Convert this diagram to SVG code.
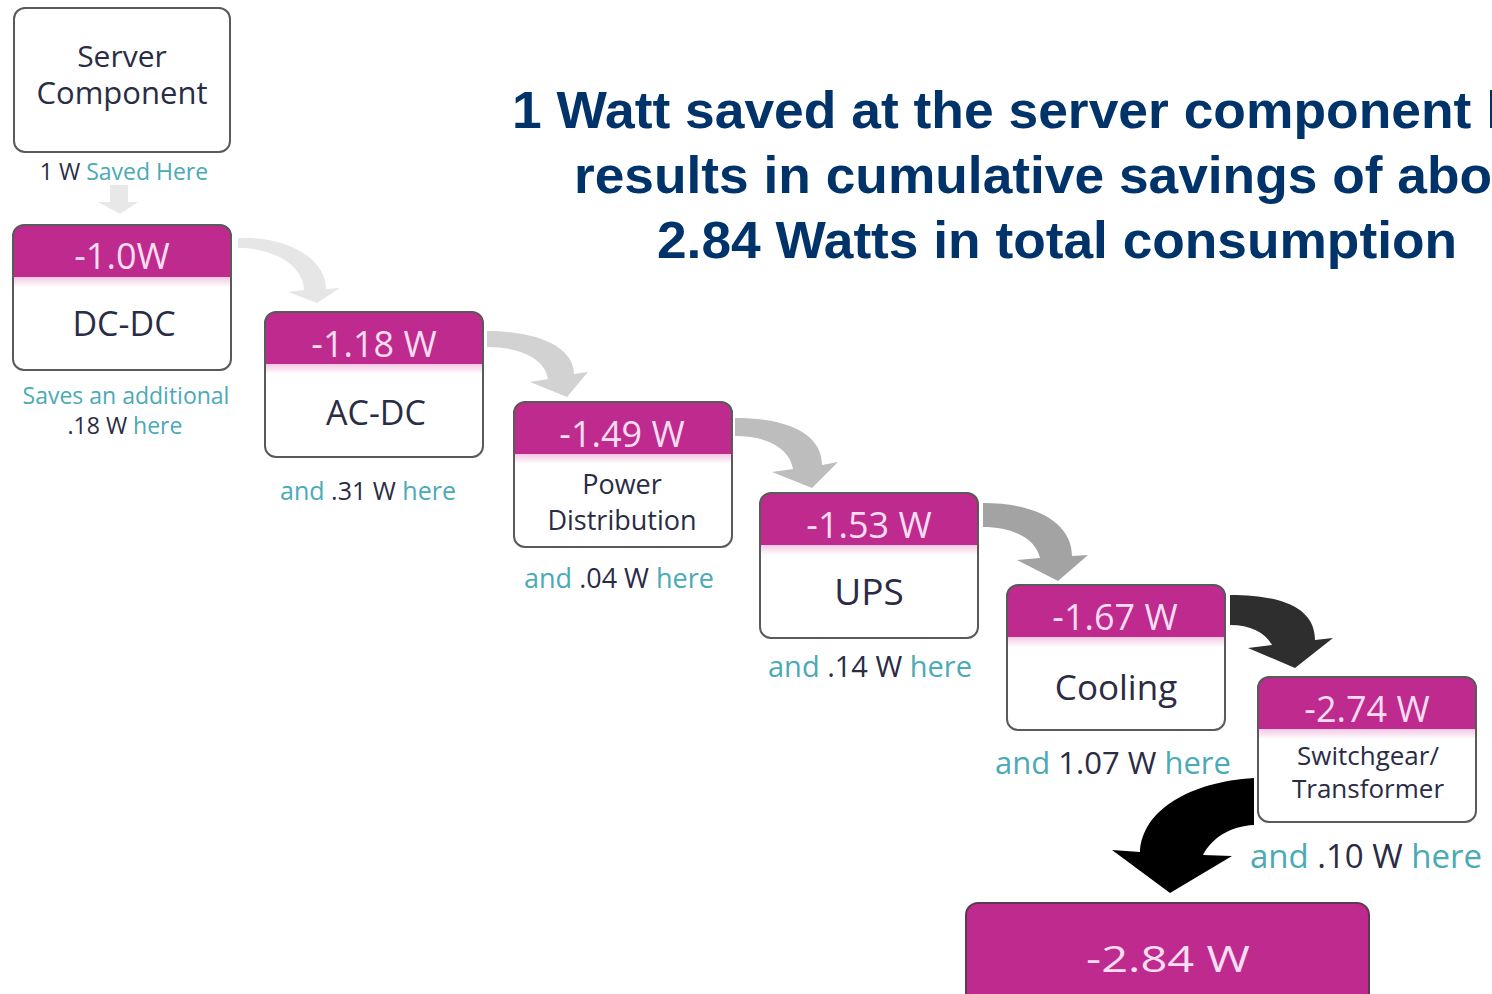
<svg xmlns="http://www.w3.org/2000/svg" width="1492" height="994" viewBox="0 0 1492 994">
  <style>
    .hd { font-family: "Open Sans", "Noto Sans", sans-serif; font-size: 36px; fill: #f8ddf0; text-anchor: middle; }
    .lb { font-family: "Open Sans", "Noto Sans", sans-serif; fill: #2a2c45; text-anchor: middle; }
    .cap { font-family: "Open Sans", "Noto Sans", sans-serif; fill: #4aaab6; text-anchor: middle; }
    .num { fill: #2a2c45; }
    .title { font-family: "Liberation Sans", Arial, sans-serif; font-weight: bold; font-size: 52px; fill: #00336a; }
  </style>
  <defs>
    <linearGradient id="fade" x1="0" y1="0" x2="0" y2="1">
      <stop offset="0" stop-color="#f3c6e3"/>
      <stop offset="1" stop-color="#ffffff"/>
    </linearGradient>
    <!-- stage card: magenta header over a white body -->
    <g id="card">
      <rect width="218" height="145" rx="11" fill="#ffffff"/>
      <path d="M0,11 a11,11 0 0 1 11,-11 h196 a11,11 0 0 1 11,11 v41 h-218 z" fill="#bf2a8f"/>
      <rect x="1" y="52" width="216" height="10" fill="url(#fade)"/>
      <rect width="218" height="145" rx="11" fill="none" stroke="#5a5a5a" stroke-width="2"/>
    </g>
  </defs>

  <rect width="1492" height="994" fill="#ffffff"/>

  <!-- headline -->
  <g id="headline">
    <text class="title" x="512" y="128" textLength="989" lengthAdjust="spacingAndGlyphs">1 Watt saved at the server component l</text>
    <text class="title" x="574" y="193" textLength="918" lengthAdjust="spacingAndGlyphs">results in cumulative savings of abo</text>
    <text class="title" x="657" y="258" textLength="800" lengthAdjust="spacingAndGlyphs">2.84 Watts in total consumption</text>
  </g>

  <!-- connectors: curved arrows, darkening down the chain -->
  <g id="connectors">
    <path d="M110,185 h18 v17 h10 l-18,12 l-22,-12 h12 z" fill="#e8e8e8"/>
    <path d="M238,238 C290,236 326,260 326,289 L340,288 L317,303 L288,292 L304,290 C304,270 280,248 238,248 Z" fill="#e6e6e6"/>
    <path d="M487,331 C540,331 574,348 574,374 L588,372 L567,397 L530,382 L548,379 C546,362 525,347 487,347 Z" fill="#d2d2d2"/>
    <path d="M735,418 C790,418 822,435 822,465 L838,462 L812,488 L772,472 L793,469 C790,450 770,436 735,436 Z" fill="#bdbdbd"/>
    <path d="M983,503 C1040,503 1072,525 1072,556 L1088,555 L1058,581 L1017,560 L1040,558 C1036,540 1015,527 983,527 Z" fill="#a3a3a3"/>
    <path d="M1230,595 C1290,595 1315,612 1315,640 L1333,638 L1295,668 L1248,648 L1272,645 C1265,632 1250,625 1230,625 Z" fill="#2e2e2e"/>
    <path d="M1254,778 C1190,782 1142,810 1140,852 L1112,850 L1170,893 L1232,856 L1203,855 C1212,838 1230,826 1254,825 Z" fill="#000000"/>
  </g>

  <g id="server">
    <rect x="14" y="8" width="216" height="144" rx="11" fill="#ffffff" stroke="#5a5a5a" stroke-width="2"/>
    <text class="lb" font-size="30"><tspan x="122" y="67">Server</tspan><tspan x="122" y="104" font-size="31">Component</tspan></text>
    <text class="cap" x="124" y="180" font-size="23"><tspan class="num">1 W</tspan> Saved Here</text>
  </g>

  <g id="dcdc">
    <use href="#card" x="13" y="225"/>
    <text class="hd" x="122" y="269">-1.0W</text>
    <text class="lb" x="124" y="336" font-size="34">DC-DC</text>
    <text class="cap" font-size="23"><tspan x="126" y="404">Saves an additional</tspan><tspan class="num" x="125" y="434">.18 W</tspan><tspan> here</tspan></text>
  </g>

  <g id="acdc">
    <use href="#card" x="265" y="312"/>
    <text class="hd" x="374" y="357">-1.18 W</text>
    <text class="lb" x="376" y="425" font-size="34">AC-DC</text>
    <text class="cap" x="368" y="500" font-size="25">and <tspan class="num">.31 W</tspan> here</text>
  </g>

  <g id="power-distribution">
    <use href="#card" x="514" y="402"/>
    <text class="hd" x="622" y="447">-1.49 W</text>
    <text class="lb" font-size="27"><tspan x="622" y="494">Power</tspan><tspan x="622" y="530">Distribution</tspan></text>
    <text class="cap" x="619" y="588" font-size="27">and <tspan class="num">.04 W</tspan> here</text>
  </g>

  <g id="ups">
    <use href="#card" x="760" y="493"/>
    <text class="hd" x="869" y="538">-1.53 W</text>
    <text class="lb" x="869" y="605" font-size="37">UPS</text>
    <text class="cap" x="870" y="677" font-size="29">and <tspan class="num">.14 W</tspan> here</text>
  </g>

  <g id="cooling">
    <use href="#card" x="1007" y="585"/>
    <text class="hd" x="1115" y="630">-1.67 W</text>
    <text class="lb" x="1116" y="700" font-size="35">Cooling</text>
    <text class="cap" x="1113" y="774" font-size="31">and <tspan class="num">1.07 W</tspan> here</text>
  </g>

  <g id="switchgear">
    <use href="#card" x="1258" y="677"/>
    <text class="hd" x="1367" y="722">-2.74 W</text>
    <text class="lb" font-size="26"><tspan x="1368" y="765">Switchgear/</tspan><tspan x="1368" y="798">Transformer</tspan></text>
    <text class="cap" x="1366" y="868" font-size="33">and <tspan class="num">.10 W</tspan> here</text>
  </g>

  <g id="total">
    <rect x="966" y="903" width="403" height="110" rx="12" fill="#bf2a8f" stroke="#5a3a50" stroke-width="2"/>
    <text class="hd" x="1168" y="972" font-size="54" textLength="164" lengthAdjust="spacingAndGlyphs">-2.84 W</text>
  </g>
</svg>
